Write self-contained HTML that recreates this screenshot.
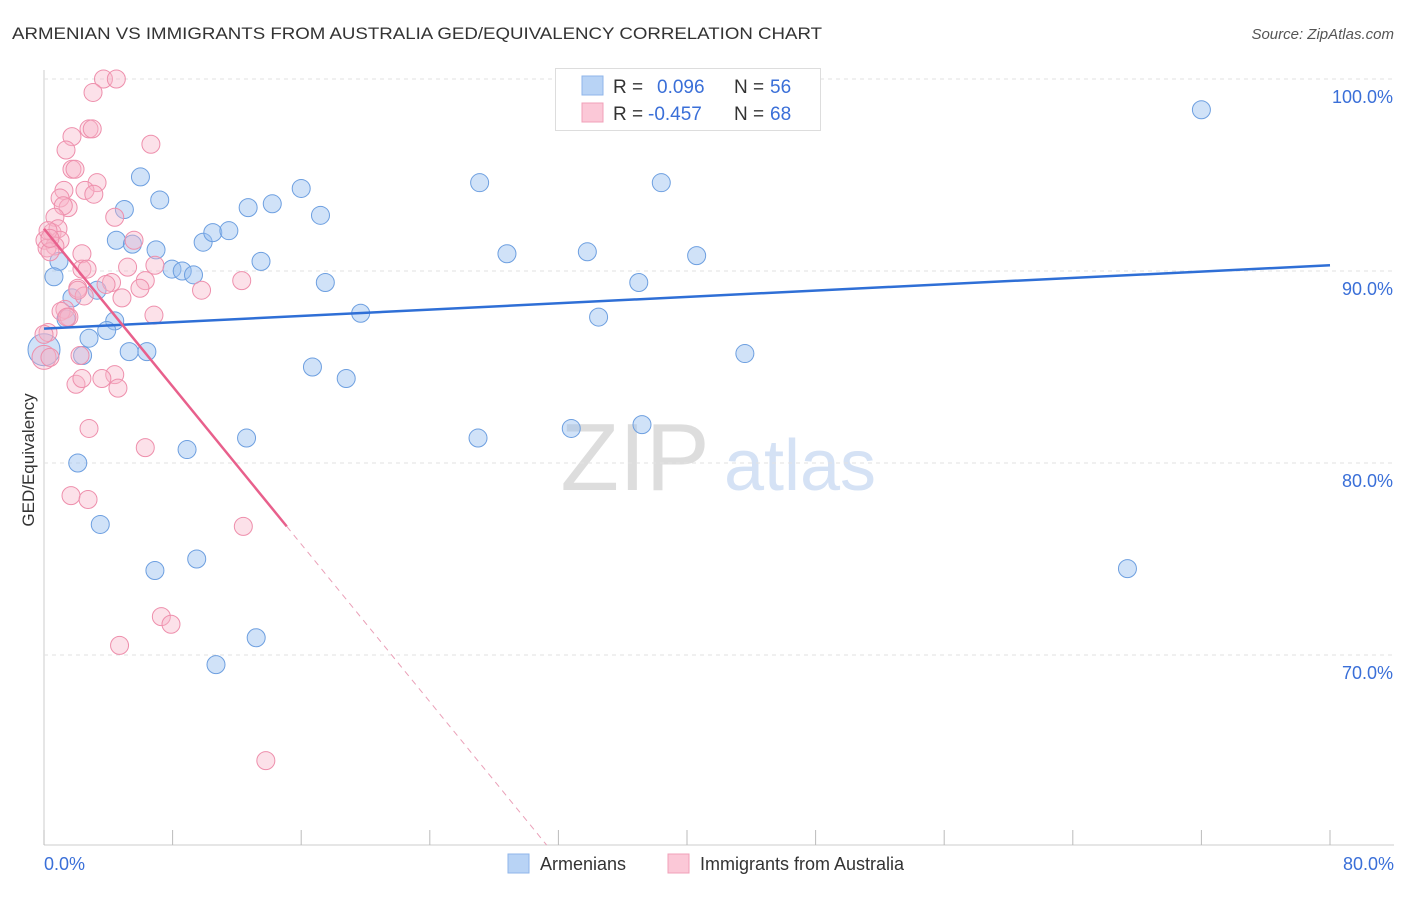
<!DOCTYPE html>
<html><head><meta charset="utf-8"><style>
body{margin:0;background:#fff;font-family:"Liberation Sans",sans-serif;}
svg text{font-family:"Liberation Sans",sans-serif;}
</style></head><body>
<svg id="c" width="1406" height="892" xmlns="http://www.w3.org/2000/svg">
<text x="12" y="39" font-size="17" fill="#333" textLength="810" lengthAdjust="spacingAndGlyphs">ARMENIAN VS IMMIGRANTS FROM AUSTRALIA GED/EQUIVALENCY CORRELATION CHART</text>
<text x="1394" y="39" font-size="15" fill="#555" font-style="italic" text-anchor="end">Source: ZipAtlas.com</text>
<text x="34" y="460" font-size="17" fill="#333" transform="rotate(-90 34 460)" text-anchor="middle">GED/Equivalency</text>
<text x="635" y="490" font-size="96" fill="#ddd" text-anchor="middle" font-family="Liberation Serif">ZIP</text>
<text x="800" y="490" font-size="72" fill="#d5e2f5" text-anchor="middle">atlas</text>
<g id="grid"></g><g id="pts"></g><g id="lines"></g>
<g>
<rect x="555.5" y="68.5" width="265" height="62" fill="#fff" stroke="#ddd"/>
<rect x="582" y="76" width="21" height="19" fill="#b8d3f5" stroke="#8fb6ea"/>
<rect x="582" y="103" width="21" height="19" fill="#fbc8d7" stroke="#f0a0b8"/>
<text x="613" y="93" font-size="19" fill="#333">R = </text><text x="657" y="93" font-size="19" fill="#3a6fd8">0.096</text>
<text x="734" y="93" font-size="19" fill="#333">N = </text><text x="770" y="93" font-size="19" fill="#3a6fd8">56</text>
<text x="613" y="120" font-size="19" fill="#333">R = </text><text x="648" y="120" font-size="19" fill="#3a6fd8">-0.457</text>
<text x="734" y="120" font-size="19" fill="#333">N = </text><text x="770" y="120" font-size="19" fill="#3a6fd8">68</text>
</g>
<g>
<rect x="508" y="854" width="21" height="19" fill="#b8d3f5" stroke="#8fb6ea"/>
<text x="540" y="870" font-size="18" fill="#333">Armenians</text>
<rect x="668" y="854" width="21" height="19" fill="#fbc8d7" stroke="#f0a0b8"/>
<text x="700" y="870" font-size="18" fill="#333">Immigrants from Australia</text>
</g>
</svg>
<script>
const blueX=[34.3,35.9,72.0,6.0,7.2,5.0,12.7,14.2,16.0,17.2,27.1,38.4,4.5,5.5,6.97,9.9,10.5,11.5,13.5,0.93,0.62,7.96,8.6,9.3,17.5,28.8,33.8,40.6,37.0,3.3,1.74,1.37,4.4,3.9,2.8,19.7,34.5,0.0,5.3,6.4,2.4,16.7,18.8,43.6,2.1,8.9,12.6,27.0,32.8,37.2,3.5,9.5,6.9,13.2,10.7,67.4];
const blueY=[100,100,98.4,94.9,93.7,93.2,93.3,93.5,94.3,92.9,94.6,94.6,91.6,91.4,91.1,91.5,92.0,92.1,90.5,90.5,89.7,90.1,90.0,89.8,89.4,90.9,91.0,90.8,89.4,89.0,88.6,87.5,87.4,86.9,86.5,87.8,87.6,85.9,85.8,85.8,85.6,85.0,84.4,85.7,80.0,80.7,81.3,81.3,81.8,82.0,76.8,75.0,74.4,70.9,69.5,74.5];
const blueR=[9,9,9,9,9,9,9,9,9,9,9,9,9,9,9,9,9,9,9,9,9,9,9,9,9,9,9,9,9,9,9,9,9,9,9,9,9,16,9,9,9,9,9,9,9,9,9,9,9,9,9,9,9,9,9,9];
const pinkX=[3.7,4.5,3.05,2.8,3.0,1.74,6.65,1.37,1.74,1.93,3.3,1.24,2.55,3.1,1.0,1.5,1.2,4.4,0.68,0.5,0.87,0.06,1.0,0.68,0.19,5.6,2.36,0.37,2.36,2.68,5.2,6.9,12.3,4.2,3.86,6.3,5.97,9.8,2.1,2.5,4.85,1.3,1.06,1.55,6.84,0.0,2.24,4.4,3.6,4.6,1.99,2.36,2.8,6.3,1.68,2.74,12.4,7.3,7.9,4.7,13.8,0.25,0.37,1.43,2.1,0.25,0.37,0.0];
const pinkY=[100,100,99.3,97.4,97.4,97.0,96.6,96.3,95.3,95.3,94.6,94.2,94.2,94.0,93.8,93.3,93.4,92.8,92.8,92.0,92.2,91.6,91.6,91.3,91.2,91.6,90.9,91.0,90.1,90.1,90.2,90.3,89.5,89.4,89.3,89.5,89.1,89.0,89.1,88.7,88.6,88.0,87.9,87.6,87.7,85.5,85.6,84.6,84.4,83.9,84.1,84.4,81.8,80.8,78.3,78.1,76.7,72.0,71.6,70.5,64.5,92.1,91.7,87.6,89.0,86.8,85.5,86.7];
const blueLine=[0.096,87.0,90.3];
const pinkLine=[-0.457,92.2,76.7];
const xTicks=[0,80];const yTicks=[100,90,80,70];
const X=v=>44+v/80*1286, Y=v=>79+(100-v)*19.2;
const NS="http://www.w3.org/2000/svg";
function mk(t,a,p){const e=document.createElementNS(NS,t);for(const k in a)e.setAttribute(k,a[k]);p.appendChild(e);return e;}
const g=document.getElementById('grid');
mk('line',{x1:44,y1:70,x2:44,y2:845,stroke:'#ccc'},g);
mk('line',{x1:44,y1:845,x2:1394,y2:845,stroke:'#ccc'},g);
for(let i=0;i<=10;i++){const l=mk('line',{x1:X(i*8),y1:830,x2:X(i*8),y2:845,stroke:'#bbb'},g);

}
yTicks.forEach(v=>{const l=mk('line',{x1:44,y1:Y(v),x2:1394,y2:Y(v),stroke:'#e2e2e2','stroke-dasharray':'4,4'},g);


const t=mk('text',{x:1393,y:Y(v)+24,'font-size':18,fill:'#3a6fd8','text-anchor':'end'},g);t.textContent=v.toFixed(1)+'%';

});
xTicks.forEach((v,i)=>{const t=mk('text',{x:i?1394:44,y:870,'font-size':18,fill:'#3a6fd8','text-anchor':i?'end':'start'},g);t.textContent=v.toFixed(1)+'%';

});
const p=document.getElementById('pts');
blueX.forEach((x,i)=>{const c=mk('circle',{cx:X(x),cy:Y(blueY[i]),r:blueR[i],fill:'rgba(150,190,240,0.45)',stroke:'#6d9fe0','stroke-width':1},p);

});
pinkX.forEach((x,i)=>{const c=mk('circle',{cx:X(x),cy:Y(pinkY[i]),r:i==45?12:9,fill:'rgba(248,180,200,0.4)',stroke:'#ee8fac','stroke-width':1},p);

});
const L=document.getElementById('lines');
let l=mk('line',{x1:X(0),y1:Y(blueLine[1]),x2:X(80),y2:Y(blueLine[2]),stroke:'#2f6fd6','stroke-width':2.5},L);


const s=(pinkLine[2]-pinkLine[1])/15.1;
l=mk('line',{x1:X(0),y1:Y(pinkLine[1]),x2:X(15.1),y2:Y(pinkLine[2]),stroke:'#e8608c','stroke-width':2.5},L);


const xe=(60.1-pinkLine[1])/s;
l=mk('line',{x1:X(15.1),y1:Y(pinkLine[2]),x2:X(xe),y2:Y(60.1),stroke:'#eaa0b8','stroke-width':1,'stroke-dasharray':'6,5'},L);


</script>
</body></html>
